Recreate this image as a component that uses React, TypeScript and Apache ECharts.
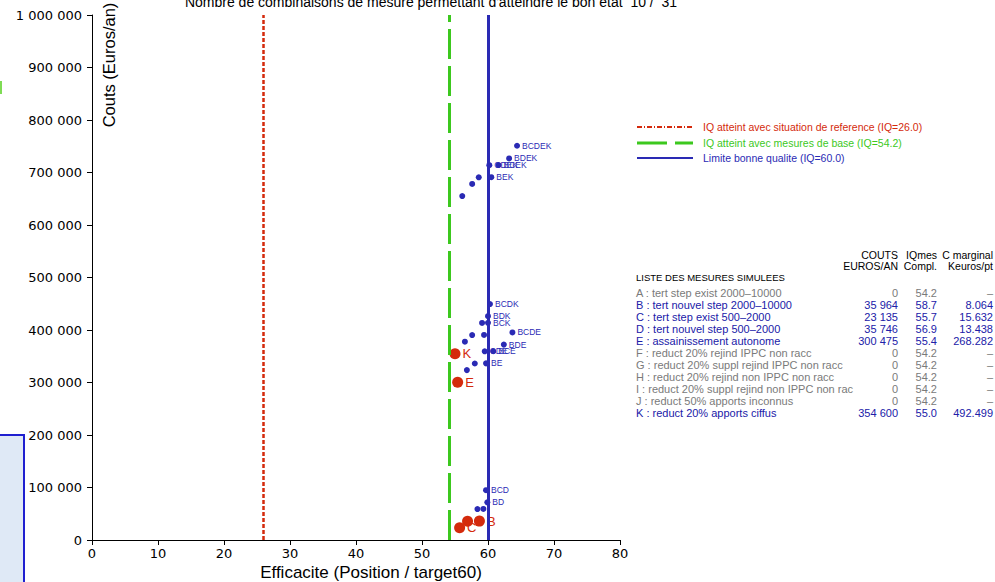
import React, { useEffect, useRef } from "react";
import * as echarts from "echarts";

const TITLE = "Nombre de combinaisons de mesure permettant d'atteindre le bon etat  10 /  31";
const X_NAME = "Efficacite (Position / target60)";
const Y_NAME = "Couts (Euros/an)";

// single measures (red)
const singleNames = ["B", "C", "D", "E", "K"];
const singleCosts = [35964, 23135, 35746, 300475, 354600];
const singleIq = [58.7, 55.7, 56.9, 55.4, 55.0];

// combinations (blue)
const comboNames = [
  "BC", "BD", "CD", "BCD",
  "BE", "CE", "DE", "BCE", "BDE", "CDE", "BCDE",
  "BK", "CK", "DK", "BCK", "BDK", "CDK", "BCDK",
  "EK", "BEK", "CEK", "DEK", "BCEK", "BDEK", "CDEK", "BCDEK",
];
const comboCosts = [
  59099, 71710, 58881, 94845,
  336439, 323610, 336221, 359574, 372185, 359356, 395320,
  390564, 377735, 390346, 413699, 426310, 413481, 449445,
  655075, 691039, 678210, 690821, 714174, 726785, 713956, 750920,
];
const comboIq = [
  59.3, 59.9, 58.4, 59.7,
  59.7, 56.8, 58.0, 60.8, 62.4, 59.5, 63.7,
  59.4, 56.5, 57.6, 60.0, 60.0, 59.1, 60.3,
  56.1, 60.5, 57.6, 58.6, 61.6, 63.2, 60.2, 64.4,
];
const labelThreshold = 59.5;

// reference lines
const refIq = 26.0;
const baseIq = 54.2;
const goodIq = 60.0;
const legendTexts = [
  "IQ atteint avec situation de reference (IQ=26.0)",
  "IQ atteint avec mesures de base (IQ=54.2)",
  "Limite bonne qualite (IQ=60.0)",
];

// table
const tableTitle = "LISTE DES MESURES SIMULEES";
const tableHead1 = ["COUTS", "IQmes", "C marginal"];
const tableHead2 = ["EUROS/AN", "Compl.", "Keuros/pt"];
const measureLabels = [
  "A : tert step exist 2000–10000",
  "B : tert nouvel step 2000–10000",
  "C : tert step exist 500–2000",
  "D : tert nouvel step 500–2000",
  "E : assainissement autonome",
  "F : reduct 20% rejind IPPC non racc",
  "G : reduct 20% suppl rejind IPPC non racc",
  "H : reduct 20% rejind non IPPC non racc",
  "I : reduct 20% suppl rejind non IPPC non rac",
  "J : reduct 50% apports inconnus",
  "K : reduct 20% apports ciffus",
];
const measureCosts = ["0", "35 964", "23 135", "35 746", "300 475", "0", "0", "0", "0", "0", "354 600"];
const measureIq = ["54.2", "58.7", "55.7", "56.9", "55.4", "54.2", "54.2", "54.2", "54.2", "54.2", "55.0"];
const measureMarginal = ["–", "8.064", "15.632", "13.438", "268.282", "–", "–", "–", "–", "–", "492.499"];
const measureActive = [false, true, true, true, true, false, false, false, false, false, true];

const RED = "#d42a0c";
const GREEN = "#3cc81e";
const BLUE = "#2a2ab4";
const GREY = "#7a7a7a";
const TBLUE = "#2020a8";

const fmt = (v: number) => String(v).replace(/\B(?=(\d{3})+(?!\d))/g, " ");

export default function App() {
  const ref = useRef<HTMLDivElement>(null);
  useEffect(() => {
    if (!ref.current) return;
    const chart = echarts.init(ref.current, undefined, { renderer: "svg" });

    const font = "Liberation Sans";
    const graphics: any[] = [];
    // title (cut off at the top)
    graphics.push({
      type: "text", x: 431, y: 9,
      style: { text: TITLE, fontFamily: font, fontSize: 14, fill: "#000", align: "center", verticalAlign: "bottom" },
    });
    // axis names
    graphics.push({
      type: "text", x: 109, y: 65, rotation: Math.PI / 2,
      style: { text: Y_NAME, fontFamily: font, fontSize: 16.5, fill: "#000", align: "center", verticalAlign: "middle" },
    });
    graphics.push({
      type: "text", x: 371, y: 572,
      style: { text: X_NAME, fontFamily: font, fontSize: 17, fill: "#000", align: "center", verticalAlign: "middle" },
    });
    // legend
    const legY = [127, 143, 158];
    const legColors = [RED, GREEN, BLUE];
    graphics.push({ type: "line", shape: { x1: 637, y1: legY[0], x2: 693, y2: legY[0] }, style: { stroke: RED, lineWidth: 2, lineDash: [5, 2, 1, 2] } });
    graphics.push({ type: "line", shape: { x1: 637, y1: legY[1], x2: 693, y2: legY[1] }, style: { stroke: GREEN, lineWidth: 3, lineDash: [30, 8] } });
    graphics.push({ type: "line", shape: { x1: 637, y1: legY[2], x2: 693, y2: legY[2] }, style: { stroke: BLUE, lineWidth: 2 } });
    legendTexts.forEach((t, i) => {
      graphics.push({
        type: "text", x: 703, y: legY[i],
        style: { text: t, fontFamily: font, fontSize: 10.5, fill: legColors[i], align: "left", verticalAlign: "middle" },
      });
    });
    // table
    const colR = [898, 937, 993];
    tableHead1.forEach((t, i) => graphics.push({ type: "text", x: colR[i], y: 255, style: { text: t, fontFamily: font, fontSize: 10.5, fill: "#000", align: "right", verticalAlign: "middle" } }));
    tableHead2.forEach((t, i) => graphics.push({ type: "text", x: colR[i], y: 266, style: { text: t, fontFamily: font, fontSize: 10.5, fill: "#000", align: "right", verticalAlign: "middle" } }));
    graphics.push({ type: "text", x: 636, y: 277, style: { text: tableTitle, fontFamily: font, fontSize: 9.5, fill: "#000", align: "left", verticalAlign: "middle" } });
    measureLabels.forEach((t, i) => {
      const y = 293 + i * 12;
      const c = measureActive[i] ? TBLUE : GREY;
      graphics.push({ type: "text", x: 636, y, style: { text: t, fontFamily: font, fontSize: 11, fill: c, align: "left", verticalAlign: "middle" } });
      graphics.push({ type: "text", x: colR[0], y, style: { text: measureCosts[i], fontFamily: font, fontSize: 11, fill: c, align: "right", verticalAlign: "middle" } });
      graphics.push({ type: "text", x: colR[1], y, style: { text: measureIq[i], fontFamily: font, fontSize: 11, fill: c, align: "right", verticalAlign: "middle" } });
      graphics.push({ type: "text", x: colR[2], y, style: { text: measureMarginal[i], fontFamily: font, fontSize: 11, fill: c, align: "right", verticalAlign: "middle" } });
    });
    // decorative overlapping window pieces at left
    graphics.push({ type: "rect", shape: { x: -2, y: 435, width: 26, height: 160 }, style: { fill: "#dfe9f6", stroke: "#1f1fd0", lineWidth: 2 } });
    graphics.push({ type: "rect", shape: { x: 0, y: 81, width: 2, height: 13 }, style: { fill: "#7fdc55" } });

    const option: any = {
      animation: false,
      backgroundColor: "#ffffff",
      grid: { left: 92, right: 375, top: 15, bottom: 42 },
      xAxis: {
        type: "value", min: 0, max: 80, interval: 10,
        axisLine: { show: true, lineStyle: { color: "#000", width: 1 } },
        axisTick: { show: true, length: 5, lineStyle: { color: "#000" } },
        axisLabel: { color: "#000", fontFamily: "DejaVu Sans", fontSize: 13, margin: 7 },
        splitLine: { show: false },
      },
      yAxis: {
        type: "value", min: 0, max: 1000000, interval: 100000,
        axisLine: { show: true, lineStyle: { color: "#000", width: 1 } },
        axisTick: { show: true, length: 5, lineStyle: { color: "#000" } },
        axisLabel: { color: "#000", fontFamily: "DejaVu Sans", fontSize: 13, margin: 10, formatter: (v: number) => fmt(v) },
        splitLine: { show: false },
      },
      graphic: graphics,
      series: [
        {
          type: "scatter",
          name: "lines",
          data: [],
          z: 1,
          markLine: {
            silent: true,
            symbol: "none",
            label: { show: false },
            data: [
              { xAxis: refIq, lineStyle: { color: RED, width: 2.5, type: [4, 2] } },
              { xAxis: baseIq, lineStyle: { color: GREEN, width: 3, type: [30, 7] } },
              { xAxis: goodIq, lineStyle: { color: BLUE, width: 3, type: "solid" } },
            ],
          },
        },
        {
          type: "scatter",
          name: "combos",
          z: 3,
          symbolSize: 6,
          itemStyle: { color: BLUE, opacity: 1 },
          label: { position: "right", distance: 2, formatter: "{b}", color: BLUE, fontFamily: font, fontSize: 8.5 },
          data: comboNames.map((n, i) => ({
            name: n,
            value: [comboIq[i], comboCosts[i]],
            label: { show: comboIq[i] >= labelThreshold },
          })),
        },
        {
          type: "scatter",
          name: "singles",
          z: 4,
          symbolSize: 11,
          itemStyle: { color: RED, opacity: 1 },
          label: { show: true, position: "right", distance: 2, formatter: "{b}", color: RED, fontFamily: font, fontSize: 13 },
          data: singleNames.map((n, i) => ({ name: n, value: [singleIq[i], singleCosts[i]] })),
        },
      ],
    };
    chart.setOption(option);
    return () => chart.dispose();
  }, []);
  return <div ref={ref} style={{ position: "fixed", left: 0, top: 0, width: 995, height: 582, background: "#fff" }} />;
}
